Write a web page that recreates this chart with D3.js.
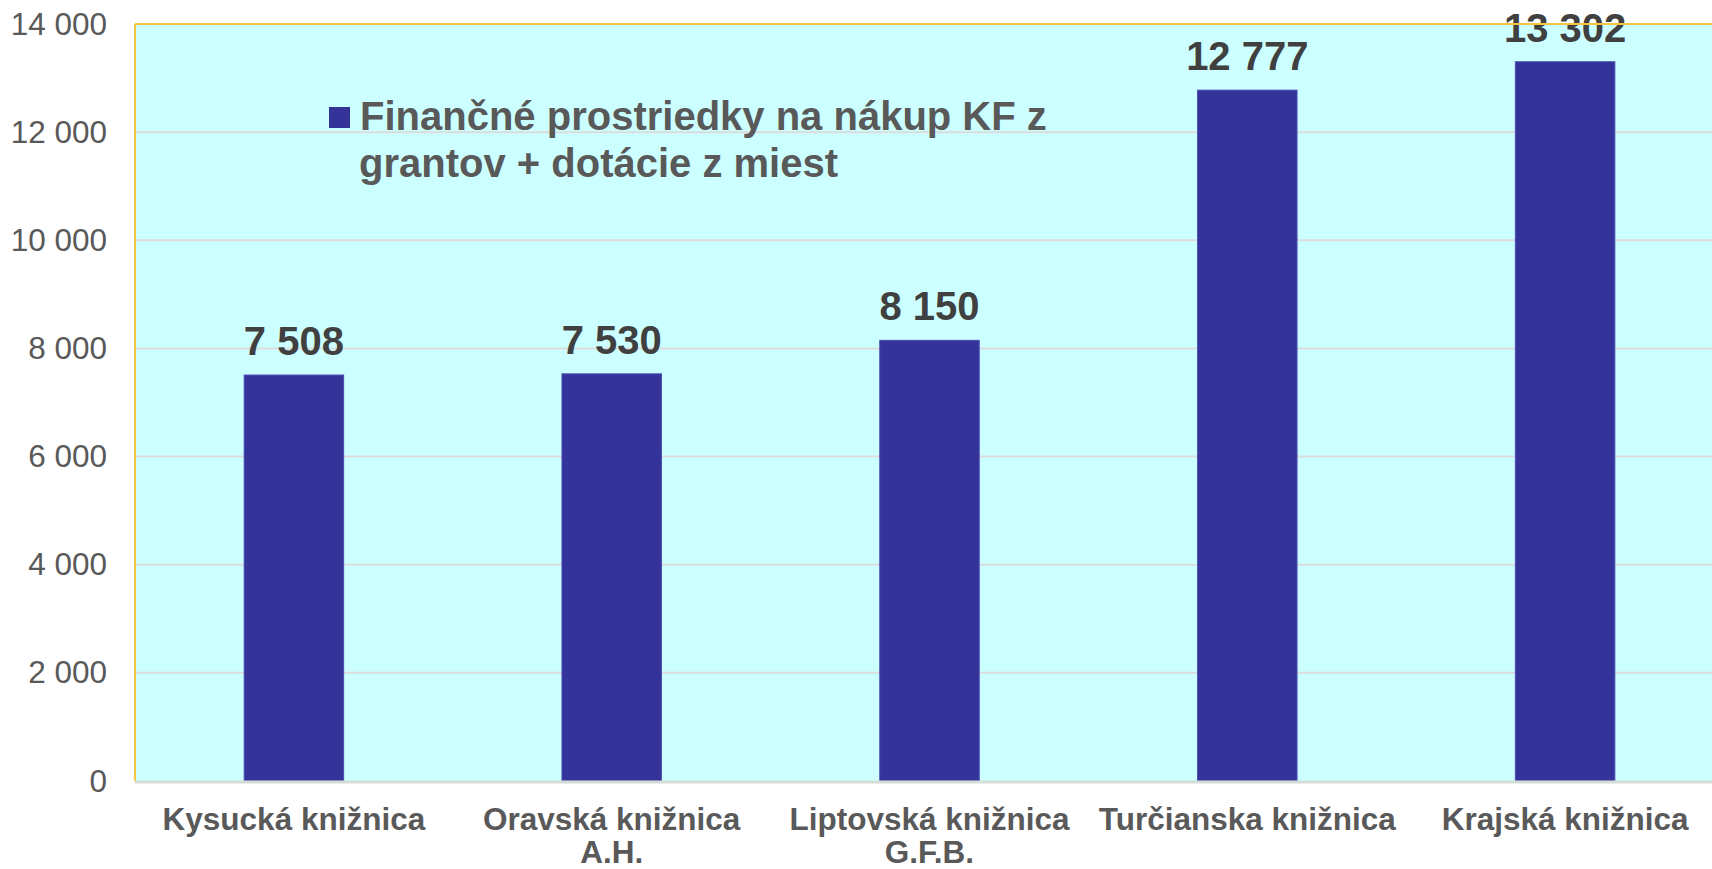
<!DOCTYPE html>
<html>
<head>
<meta charset="utf-8">
<script src="https://cdn.jsdelivr.net/npm/d3@7"></script>
<style>
  body { margin: 0; background: #fff; }
  svg { display: block; font-family: "Liberation Sans", Arial, sans-serif; }
</style>
</head>
<body>
<div id="chart"></div>
<script>
// data
let categories = ["Kysucká knižnica", "Oravská knižnica A.H.", "Liptovská knižnica G.F.B.", "Turčianska knižnica", "Krajská knižnica"];
let categoryLines = [["Kysucká knižnica"], ["Oravská knižnica", "A.H."], ["Liptovská knižnica", "G.F.B."], ["Turčianska knižnica"], ["Krajská knižnica"]];
let values = [7508, 7530, 8150, 12777, 13302];
let yTicks = [0, 2000, 4000, 6000, 8000, 10000, 12000, 14000];
let legendLines = ["Finančné prostriedky na nákup KF z", "grantov + dotácie z miest"];

let svgextent = [1712, 869];
let plot = {left: 135, top: 24, right: 1724, bottom: 781};

var svg = d3.select("#chart").append("svg")
    .attr("width", svgextent[0])
    .attr("height", svgextent[1]);

var fmt = d3.formatLocale({decimal: ",", thousands: " ", grouping: [3], currency: ["", ""]}).format(",");

var x = d3.scaleBand()
    .domain(categories)
    .range([plot.left, plot.right])
    .paddingInner(0.687)
    .paddingOuter(0.3435);

var y = d3.scaleLinear()
    .domain([0, 14000])
    .range([plot.bottom, plot.top]);

// background
svg.append("rect")
    .attr("x", plot.left)
    .attr("y", plot.top)
    .attr("width", plot.right - plot.left)
    .attr("height", plot.bottom - plot.top)
    .style("fill", "#ccffff");

// gridlines
svg.append("g")
  .selectAll("line")
  .data(yTicks.filter(d => d > 0 && d < 14000))
  .enter().append("line")
    .attr("x1", plot.left)
    .attr("x2", plot.right)
    .attr("y1", d => y(d))
    .attr("y2", d => y(d))
    .style("stroke", "#dcdcdc")
    .style("stroke-width", 2);

// y axis labels
var yAxis = svg.append("g")
    .attr("transform", "translate(" + plot.left + ",0)")
    .call(d3.axisLeft(y).tickValues(yTicks).tickFormat(fmt).tickSize(0).tickPadding(28));
yAxis.select(".domain").remove();
yAxis.selectAll("text")
    .style("font-size", "31.5px")
    .style("fill", "#595959")
    .style("font-family", "Liberation Sans, Arial, sans-serif");

// bars
svg.append("g")
  .selectAll("rect")
  .data(values)
  .enter().append("rect")
    .attr("x", (d, i) => x(categories[i]))
    .attr("y", d => y(d))
    .attr("width", x.bandwidth())
    .attr("height", d => y(0) - y(d))
    .style("fill", "#333399")
    .style("stroke", "#4d4db3")
    .style("stroke-width", 1);

// value labels
svg.append("g")
  .selectAll("text")
  .data(values)
  .enter().append("text")
    .attr("x", (d, i) => x(categories[i]) + x.bandwidth() / 2)
    .attr("y", d => y(d) - 20)
    .attr("text-anchor", "middle")
    .style("font-size", "40px")
    .style("font-weight", "bold")
    .style("fill", "#404040")
    .text(d => fmt(d));

// plot border: yellow top and left, gray bottom
svg.append("line")
    .attr("x1", plot.left).attr("x2", plot.right)
    .attr("y1", plot.top).attr("y2", plot.top)
    .style("stroke", "#f5c542").style("stroke-width", 2);
svg.append("line")
    .attr("x1", plot.left).attr("x2", plot.left)
    .attr("y1", plot.top).attr("y2", plot.bottom)
    .style("stroke", "#f5c542").style("stroke-width", 2);
svg.append("line")
    .attr("x1", plot.left).attr("x2", plot.right)
    .attr("y1", plot.bottom + 1).attr("y2", plot.bottom + 1)
    .style("stroke", "#d6ddd8").style("stroke-width", 3);

// category labels
var cat = svg.append("g")
  .selectAll("text")
  .data(categories)
  .enter().append("text")
    .attr("x", d => x(d) + x.bandwidth() / 2)
    .attr("y", 830)
    .attr("text-anchor", "middle")
    .style("font-size", "31.5px")
    .style("font-weight", "bold")
    .style("fill", "#595959");
cat.selectAll("tspan")
  .data((d, i) => categoryLines[i])
  .enter().append("tspan")
    .attr("x", function() { return d3.select(this.parentNode).attr("x"); })
    .attr("dy", (d, i) => i == 0 ? 0 : 33)
    .text(d => d);

// legend
svg.append("rect")
    .attr("x", 329)
    .attr("y", 107)
    .attr("width", 21)
    .attr("height", 21)
    .style("fill", "#333399");
svg.append("text")
    .attr("x", 360)
    .attr("y", 130)
    .style("font-size", "40px")
    .style("font-weight", "bold")
    .style("fill", "#595959")
  .selectAll("tspan")
  .data(legendLines)
  .enter().append("tspan")
    .attr("x", (d, i) => i == 0 ? 360 : 359)
    .attr("dy", (d, i) => i == 0 ? 0 : 47)
    .text(d => d);
</script>
</body>
</html>
